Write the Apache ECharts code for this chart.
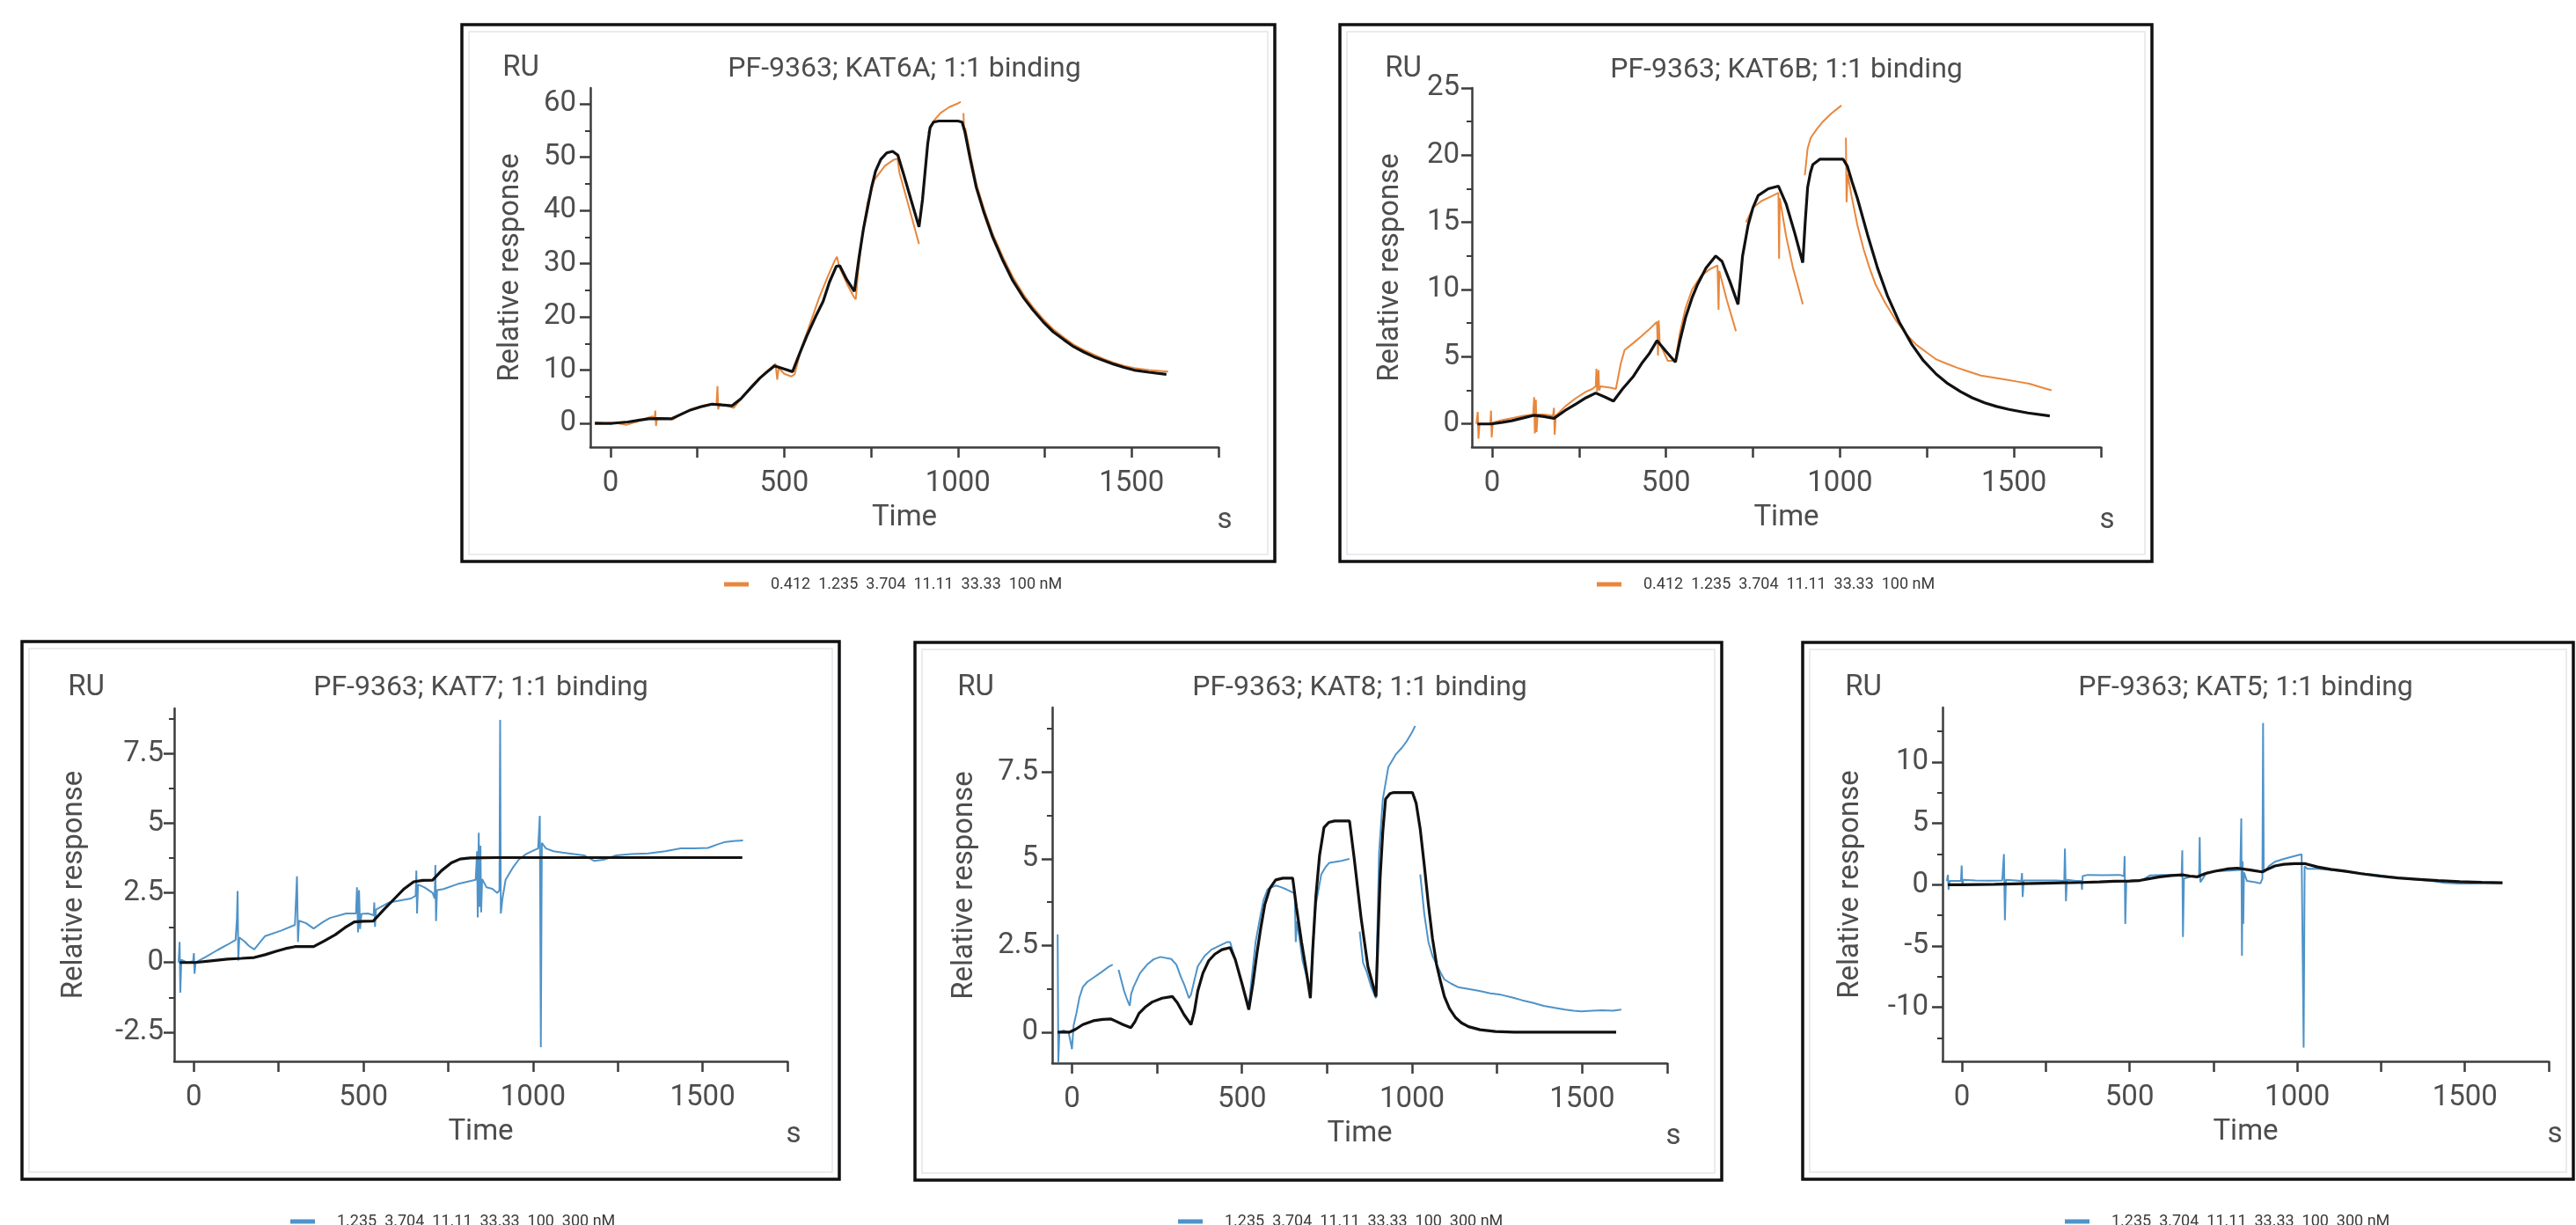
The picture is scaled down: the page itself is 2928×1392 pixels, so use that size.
<!DOCTYPE html>
<html>
<head>
<meta charset="utf-8">
<title>PF-9363 binding kinetics</title>
<script src="https://cdn.jsdelivr.net/npm/echarts@6/dist/echarts.min.js"></script>
<style>
  html, body { margin: 0; padding: 0; background: #fff; }
  #main { width: 2928px; height: 1392px; }
</style>
</head>
<body>
<div id="main"></div>
<script>
// time axis (s)
const timeTicks = [0, 250, 500, 750, 1000, 1250, 1500, 1750];
const timeLabels = [0, 500, 1000, 1500];

// legend texts (analyte concentrations)
const upperConc = '0.412  1.235  3.704  11.11  33.33  100 nM';
const lowerConc = '1.235  3.704  11.11  33.33  100  300 nM';

// y ticks per panel
const kat6aTicks = [0, 10, 20, 30, 40, 50, 60];
const kat6aMinor = [5, 15, 25, 35, 45, 55];
const kat6bTicks = [0, 5, 10, 15, 20, 25];
const kat6bMinor = [2.5, 7.5, 12.5, 17.5, 22.5];
const kat7Ticks = [-2.5, 0, 2.5, 5, 7.5];
const kat7Minor = [-1.25, 1.25, 3.75, 6.25, 8.75];
const kat8Ticks = [0, 2.5, 5, 7.5];
const kat8Minor = [1.25, 3.75, 6.25, 8.75];
const kat5Ticks = [-10, -5, 0, 5, 10];
const kat5Minor = [-12.5, -7.5, -2.5, 2.5, 7.5, 12.5];

// KAT6A - measured response and 1:1 fit  [time, RU]
const kat6aResp = [[-45,0.2],[-15,0.0],[15,0.1],[45,-0.3],[75,0.3],[100,0.9],[120,1.3],[127,1.0],[129,2.4],[131,-0.5],[134,1.0],[160,0.9],[180,0.7],[205,1.8],[235,2.7],[265,3.3],[295,3.7],[305,3.5],[308,7.0],[310,2.6],[314,3.7],[335,3.3],[355,2.9],[380,5.0],[410,7.3],[440,9.2],[465,10.6],[475,11.2],[480,8.2],[484,10.4],[500,9.3],[520,8.8],[530,9.2],[550,14.3],[575,18.8],[600,23.5],[625,27.5],[645,30.5],[652,31.3],[658,29.5],[680,26.3],[700,23.8],[706,23.3],[712,28.0],[725,35.5],[740,41.5],[760,45.8],[790,48.4],[815,49.5],[826,49.7],[832,47.0],[850,42.8],[870,38.0],[888,33.7],[892,null],[914,54.5],[930,56.8],[950,58.3],[975,59.4],[1000,60.1],[1008,60.4],[1012,null],[1016,58.3],[1018,54.7],[1021,55.5],[1035,50.8],[1053,45.0],[1075,40.3],[1100,35.6],[1130,31.2],[1158,27.5],[1190,24.1],[1216,21.8],[1245,19.6],[1274,17.7],[1305,16.1],[1333,14.8],[1362,13.8],[1391,12.9],[1420,12.1],[1449,11.4],[1478,10.8],[1507,10.4],[1550,10.0],[1605,9.7]];
const kat6aFit = [[-45,0],[5,0],[50,0.25],[80,0.55],[110,0.85],[140,0.9],[175,0.85],[200,1.6],[230,2.5],[260,3.1],[292,3.6],[320,3.45],[350,3.3],[375,4.6],[400,6.4],[430,8.5],[455,9.9],[472,10.8],[500,10.2],[524,9.7],[545,13.2],[565,16.4],[590,20.0],[612,22.9],[630,26.5],[650,29.5],[660,29.6],[680,27.0],[702,24.8],[715,31.0],[728,36.5],[740,40.5],[752,44.5],[763,47.4],[778,49.6],[795,50.8],[812,51.1],[827,50.4],[845,46.5],[865,42.0],[888,36.9],[898,42.0],[906,47.6],[913,52.5],[920,55.6],[930,56.6],[945,56.8],[1000,56.8],[1012,56.6],[1020,54.8],[1035,49.8],[1053,44.3],[1075,39.6],[1100,35.0],[1130,30.5],[1158,26.8],[1190,23.5],[1216,21.3],[1245,19.1],[1274,17.2],[1305,15.7],[1333,14.4],[1362,13.4],[1391,12.5],[1420,11.8],[1449,11.1],[1478,10.5],[1507,10.0],[1550,9.6],[1600,9.2]];

// KAT6B
const kat6bResp = [[-45,0.0],[-41,0.9],[-39,-1.1],[-36,0.0],[-5,0.0],[-3,1.0],[-1,-1.0],[2,0.1],[30,0.3],[60,0.45],[90,0.6],[118,0.7],[121,2.0],[123,-0.7],[126,1.8],[128,-0.6],[131,0.7],[150,0.7],[175,0.6],[178,1.2],[180,-0.8],[183,0.6],[210,1.3],[240,1.9],[270,2.4],[288,2.6],[298,2.8],[300,4.1],[302,2.4],[306,4.0],[308,2.5],[312,2.8],[340,2.7],[356,2.6],[370,4.5],[381,5.5],[405,6.0],[428,6.5],[450,7.0],[474,7.6],[477,5.1],[479,7.7],[482,6.0],[505,4.7],[527,4.7],[540,6.8],[556,8.6],[575,10.0],[600,11.0],[625,11.5],[648,11.8],[651,8.5],[653,11.4],[675,9.2],[701,6.9],[705,null],[730,15.0],[750,16.1],[775,16.6],[800,16.9],[823,17.2],[825,12.3],[827,16.8],[845,14.0],[865,11.6],[880,10.2],[893,8.9],[896,null],[899,18.5],[907,20.5],[916,21.3],[935,22.0],[951,22.5],[975,23.1],[1004,23.7],[1010,null],[1017,21.3],[1019,16.5],[1022,18.6],[1033,17.0],[1050,14.8],[1068,13.0],[1085,11.6],[1102,10.4],[1130,9.0],[1161,7.7],[1190,6.7],[1219,5.9],[1250,5.3],[1277,4.8],[1305,4.5],[1335,4.2],[1370,3.9],[1405,3.6],[1440,3.45],[1475,3.3],[1510,3.15],[1544,3.0],[1575,2.75],[1608,2.5]];
const kat6bFit = [[-42,0],[-2,0],[30,0.12],[56,0.24],[90,0.45],[120,0.64],[150,0.55],[178,0.42],[210,1.0],[242,1.5],[270,1.95],[298,2.3],[325,2.0],[349,1.7],[375,2.6],[405,3.5],[430,4.5],[451,5.2],[474,6.2],[500,5.4],[527,4.6],[540,6.2],[556,7.9],[575,9.4],[591,10.4],[615,11.6],[643,12.5],[661,12.1],[685,10.5],[707,8.9],[720,12.5],[736,14.8],[750,16.1],[765,17.0],[794,17.5],[823,17.7],[845,16.4],[870,14.2],[893,12.0],[900,15.0],[907,17.6],[915,18.7],[922,19.3],[942,19.7],[1009,19.7],[1021,19.2],[1035,18.0],[1050,16.8],[1079,14.1],[1108,11.6],[1137,9.5],[1170,7.6],[1207,5.9],[1240,4.7],[1277,3.7],[1310,3.0],[1347,2.4],[1380,1.95],[1416,1.57],[1450,1.3],[1486,1.08],[1540,0.82],[1603,0.6]];

// KAT7
const kat7Resp = [[-45,0.0],[-42,0.74],[-40,-1.08],[-37,0.1],[-20,0.0],[-2,0.05],[0,0.34],[2,-0.4],[5,0.0],[35,0.2],[70,0.45],[99,0.64],[123,0.81],[127,1.6],[129,2.57],[131,0.07],[134,0.9],[150,0.75],[162,0.6],[178,0.47],[210,0.95],[258,1.15],[298,1.35],[304,3.1],[307,0.74],[310,1.5],[330,1.42],[353,1.22],[380,1.45],[401,1.6],[449,1.76],[478,1.76],[481,2.7],[484,1.08],[487,2.6],[490,1.2],[494,1.75],[513,1.76],[530,1.7],[532,2.16],[534,1.28],[537,1.9],[576,2.16],[640,2.3],[654,2.4],[656,3.3],[658,1.76],[661,2.8],[680,2.7],[704,2.5],[710,2.3],[712,3.5],[714,1.49],[717,2.6],[736,2.64],[783,2.84],[831,2.97],[835,4.0],[837,1.62],[840,4.66],[842,2.0],[845,4.2],[847,1.8],[850,3.0],[863,2.7],[880,2.65],[895,2.5],[901,2.6],[903,8.72],[905,1.76],[910,2.3],[919,2.97],[940,3.4],[958,3.7],[980,3.9],[1006,4.05],[1015,4.1],[1020,5.27],[1023,-3.04],[1026,4.3],[1038,4.1],[1060,4.0],[1086,3.95],[1120,3.9],[1150,3.85],[1181,3.65],[1210,3.7],[1245,3.85],[1290,3.9],[1340,3.92],[1390,4.0],[1436,4.1],[1475,4.1],[1516,4.12],[1545,4.25],[1563,4.32],[1590,4.36],[1619,4.39]];
const kat7Fit = [[-42,0],[3,0],[50,0.06],[99,0.12],[140,0.15],[178,0.18],[210,0.28],[242,0.4],[270,0.5],[298,0.57],[325,0.57],[353,0.57],[385,0.78],[417,1.0],[445,1.25],[473,1.46],[500,1.48],[529,1.49],[560,1.9],[592,2.3],[620,2.65],[648,2.9],[675,2.95],[704,2.96],[730,3.3],[759,3.58],[785,3.72],[815,3.76],[895,3.77],[1617,3.77]];

// KAT8
const kat8Resp = [[-42,2.82],[-40,-0.87],[-37,0.0],[-25,0.05],[-10,0.0],[-2,-0.38],[0,-0.49],[5,0.2],[13,0.54],[22,1.0],[32,1.3],[45,1.45],[63,1.57],[85,1.72],[110,1.9],[120,1.95],[128,null],[137,1.8],[145,1.5],[153,1.2],[160,1.0],[166,0.85],[170,0.76],[174,1.1],[181,1.3],[200,1.7],[221,1.95],[240,2.1],[260,2.17],[292,2.11],[307,1.95],[320,1.6],[331,1.35],[344,0.98],[350,1.08],[360,1.5],[370,1.9],[390,2.2],[410,2.38],[435,2.5],[457,2.6],[465,2.6],[480,2.1],[500,1.4],[520,0.76],[530,1.7],[540,2.6],[552,3.25],[563,3.8],[575,4.12],[599,4.23],[615,4.18],[630,4.12],[645,4.05],[655,4.0],[658,2.6],[662,3.2],[678,2.06],[690,1.6],[701,1.19],[708,2.5],[717,3.68],[733,4.55],[745,4.75],[756,4.88],[788,4.93],[805,4.97],[816,5.0],[830,null],[846,2.9],[856,2.0],[867,1.73],[880,1.3],[894,0.98],[898,3.0],[903,5.2],[914,6.72],[930,7.64],[953,8.02],[970,8.2],[985,8.4],[1000,8.65],[1009,8.83],[1015,null],[1024,4.55],[1036,3.4],[1048,2.6],[1060,2.2],[1072,1.95],[1085,1.7],[1095,1.52],[1115,1.4],[1135,1.3],[1165,1.25],[1198,1.19],[1230,1.12],[1261,1.08],[1295,1.0],[1324,0.92],[1355,0.85],[1387,0.76],[1420,0.7],[1450,0.65],[1475,0.62],[1497,0.6],[1530,0.62],[1560,0.63],[1590,0.62],[1615,0.65]];
const kat8Fit = [[-42,0],[-8,0],[10,0.08],[32,0.22],[63,0.33],[90,0.37],[115,0.38],[126,0.33],[150,0.22],[173,0.13],[185,0.3],[197,0.54],[215,0.72],[236,0.87],[265,0.98],[295,1.03],[310,0.85],[330,0.5],[350,0.22],[360,0.6],[370,1.19],[385,1.7],[402,2.06],[420,2.25],[441,2.38],[465,2.44],[480,2.1],[500,1.4],[520,0.65],[532,1.4],[544,2.28],[555,3.0],[567,3.68],[582,4.15],[599,4.39],[620,4.44],[649,4.44],[660,3.6],[675,2.6],[690,1.7],[701,0.98],[708,2.4],[717,3.9],[728,5.1],[741,5.9],[755,6.05],[772,6.09],[816,6.09],[830,5.0],[850,3.3],[870,1.9],[894,1.03],[900,2.8],[906,4.44],[914,5.8],[922,6.72],[935,6.88],[946,6.91],[1001,6.91],[1012,6.6],[1024,5.85],[1036,4.8],[1048,3.68],[1060,2.7],[1072,1.95],[1084,1.45],[1095,1.03],[1110,0.68],[1127,0.43],[1145,0.27],[1166,0.16],[1200,0.07],[1245,0.02],[1300,0.0],[1600,0.0]];

// KAT5
const kat5Resp = [[-45,0.3],[-42,0.8],[-40,-0.4],[-37,0.3],[-3,0.3],[-1,1.56],[1,-0.1],[4,0.4],[40,0.35],[80,0.33],[120,0.34],[125,2.5],[128,-2.9],[131,0.4],[160,0.35],[177,0.3],[179,0.95],[181,-1.0],[184,0.35],[230,0.35],[280,0.35],[305,0.3],[307,2.94],[310,-1.35],[313,0.4],[340,0.3],[356,0.3],[358,-0.4],[360,0.7],[375,0.8],[420,0.78],[470,0.8],[483,0.7],[485,2.33],[487,-3.2],[490,0.2],[510,0.35],[540,0.4],[560,0.75],[600,0.8],[640,0.8],[655,0.7],[657,2.8],[659,-4.26],[662,0.5],[690,0.7],[707,0.6],[709,3.87],[711,0.2],[730,1.0],[760,1.1],[800,1.15],[830,1.2],[833,5.4],[835,-5.8],[837,1.9],[839,-3.2],[841,1.0],[850,0.3],[875,0.2],[890,0.1],[896,0.5],[898,13.2],[900,1.0],[915,1.5],[933,1.87],[960,2.1],[992,2.33],[1013,2.48],[1017,2.5],[1019,-13.3],[1022,1.5],[1030,1.3],[1060,1.3],[1100,1.2],[1150,1.05],[1200,0.9],[1240,0.8],[1291,0.6],[1340,0.45],[1400,0.3],[1440,0.15],[1480,0.1],[1520,0.1],[1560,0.12],[1612,0.12]];
const kat5Fit = [[-42,0],[0,0],[97,0.03],[180,0.08],[246,0.12],[300,0.15],[358,0.18],[410,0.23],[455,0.28],[500,0.3],[530,0.34],[560,0.5],[590,0.64],[625,0.75],[657,0.8],[680,0.7],[701,0.64],[725,0.9],[754,1.1],[790,1.28],[821,1.35],[860,1.2],[895,1.04],[915,1.3],[933,1.53],[960,1.66],[992,1.72],[1022,1.72],[1060,1.45],[1100,1.25],[1142,1.1],[1190,0.9],[1246,0.7],[1300,0.55],[1366,0.43],[1420,0.33],[1485,0.25],[1550,0.19],[1612,0.15]];

const ORANGE = '#e8873c';
const BLUE = '#4f93c8';
const FIT = '#111111';
const TXT = '#4d4d4d';
const AXIS = '#3c3c3c';
const FONT = 'Roboto, "Noto Sans", sans-serif';

// page layout of the five panels (pixels)
const panels = [
  { target: 'KAT6A', resp: kat6aResp, fit: kat6aFit, ticks: kat6aTicks, minor: kat6aMinor, yMin: -4.46, yMax: 63,
    color: ORANGE, conc: upperConc, grid: [671, 100, 714, 408], box: [525, 28, 924, 610],
    ru: [592, 78], titleY: 79, nameGap: 74, labelMargin: 16, legend: [818, 660] },
  { target: 'KAT6B', resp: kat6bResp, fit: kat6bFit, ticks: kat6bTicks, minor: kat6bMinor, yMin: -1.72, yMax: 25,
    color: ORANGE, conc: upperConc, grid: [1673, 100, 715, 408], box: [1523, 28, 923, 610],
    ru: [1595, 79], titleY: 80, nameGap: 76, labelMargin: 14, legend: [1810, 660] },
  { target: 'KAT7', resp: kat7Resp, fit: kat7Fit, ticks: kat7Ticks, minor: kat7Minor, yMin: -3.55, yMax: 9.13,
    color: BLUE, conc: lowerConc, grid: [198, 805, 697, 401], box: [25, 729, 929, 611],
    ru: [98, 782], titleY: 782, nameGap: 97, labelMargin: 12, legend: [325, 1384] },
  { target: 'KAT8', resp: kat8Resp, fit: kat8Fit, ticks: kat8Ticks, minor: kat8Minor, yMin: -0.89, yMax: 9.36,
    color: BLUE, conc: lowerConc, grid: [1196, 804, 699, 404], box: [1040, 730, 917, 611],
    ru: [1109, 782], titleY: 782, nameGap: 83, labelMargin: 16, legend: [1334, 1384] },
  { target: 'KAT5', resp: kat5Resp, fit: kat5Fit, ticks: kat5Ticks, minor: kat5Minor, yMin: -14.41, yMax: 14.45,
    color: BLUE, conc: lowerConc, grid: [2208, 804, 689, 402], box: [2049, 730, 876, 610],
    ru: [2118, 782], titleY: 782, nameGap: 88, labelMargin: 16, legend: [2342, 1384] }
];

const chart = echarts.init(document.getElementById('main'));

const grids = [], xAxes = [], yAxes = [], series = [], legends = [], graphics = [];
const plain = function (v) { return String(v); };

panels.forEach(function (p, i) {
  const g = p.grid;
  grids.push({ left: g[0], top: g[1], width: g[2], height: g[3], containLabel: false });

  xAxes.push({
    gridIndex: i, type: 'value', min: -58, max: 1750,
    name: 'Time', nameLocation: 'middle', nameGap: 64,
    nameTextStyle: { fontSize: 33, color: TXT, fontFamily: FONT },
    axisLine: { onZero: false, lineStyle: { color: AXIS, width: 2.5 } },
    axisTick: { show: true, customValues: timeTicks, length: 12, lineStyle: { color: AXIS, width: 2.5 } },
    axisLabel: { customValues: timeLabels, formatter: plain, fontSize: 33, color: TXT, fontFamily: FONT, margin: 25 },
    splitLine: { show: false }
  });

  yAxes.push({
    gridIndex: i, type: 'value', position: 'left', min: p.yMin, max: p.yMax,
    name: 'Relative response', nameLocation: 'middle', nameGap: p.nameGap,
    nameTextStyle: { fontSize: 33, color: TXT, fontFamily: FONT },
    axisLine: { show: true, onZero: false, lineStyle: { color: AXIS, width: 2.5 } },
    axisTick: { show: true, customValues: p.ticks, length: 12, lineStyle: { color: AXIS, width: 2.5 } },
    axisLabel: { customValues: p.ticks, formatter: plain, fontSize: 33, color: TXT, fontFamily: FONT, margin: p.labelMargin },
    splitLine: { show: false }
  });
  // minor ticks on the same (left) side
  yAxes.push({
    gridIndex: i, type: 'value', position: 'left', offset: 0, min: p.yMin, max: p.yMax,
    axisLine: { show: false, onZero: false },
    axisTick: { show: true, customValues: p.minor, length: 6, lineStyle: { color: AXIS, width: 2 } },
    axisLabel: { show: false },
    splitLine: { show: false }
  });

  series.push({
    name: p.conc, type: 'line', xAxisIndex: i, yAxisIndex: 2 * i,
    data: p.resp, showSymbol: false, color: p.color,
    lineStyle: { color: p.color, width: 2 }, connectNulls: false, animation: false, z: 2
  });
  series.push({
    name: 'fit ' + p.target, type: 'line', xAxisIndex: i, yAxisIndex: 2 * i,
    data: p.fit, showSymbol: false, color: FIT,
    lineStyle: { color: FIT, width: 3.2 }, animation: false, z: 3
  });

  legends.push({
    data: [p.conc], left: p.legend[0], top: p.legend[1] - 10,
    icon: 'rect', itemWidth: 28, itemHeight: 5, selectedMode: false,
    textStyle: { fontSize: 18, color: '#3a3a3a', fontFamily: FONT, padding: [0, 0, 0, 20] }
  });

  const b = p.box;
  graphics.push({ type: 'rect', silent: true, shape: { x: b[0], y: b[1], width: b[2], height: b[3] },
    style: { fill: null, stroke: '#111', lineWidth: 3.5 } });
  graphics.push({ type: 'rect', silent: true, shape: { x: b[0] + 8, y: b[1] + 8, width: b[2] - 16, height: b[3] - 16 },
    style: { fill: null, stroke: '#e2e6ea', lineWidth: 1.5 } });
  graphics.push({ type: 'text', silent: true, x: g[0] + g[2] / 2, y: p.titleY,
    style: { text: 'PF-9363; ' + p.target + '; 1:1 binding', fontSize: 32, fontFamily: FONT, fill: TXT,
      align: 'center', verticalAlign: 'middle' } });
  graphics.push({ type: 'text', silent: true, x: p.ru[0], y: p.ru[1],
    style: { text: 'RU', fontSize: 33, fontFamily: FONT, fill: TXT, align: 'center', verticalAlign: 'middle' } });
  graphics.push({ type: 'text', silent: true, x: g[0] + g[2] + 7, y: g[1] + g[3] + 84,
    style: { text: 's', fontSize: 33, fontFamily: FONT, fill: TXT, align: 'center', verticalAlign: 'middle' } });
});

chart.setOption({
  backgroundColor: '#ffffff',
  animation: false,
  grid: grids,
  xAxis: xAxes,
  yAxis: yAxes,
  legend: legends,
  series: series,
  graphic: { elements: graphics }
});
</script>
</body>
</html>
